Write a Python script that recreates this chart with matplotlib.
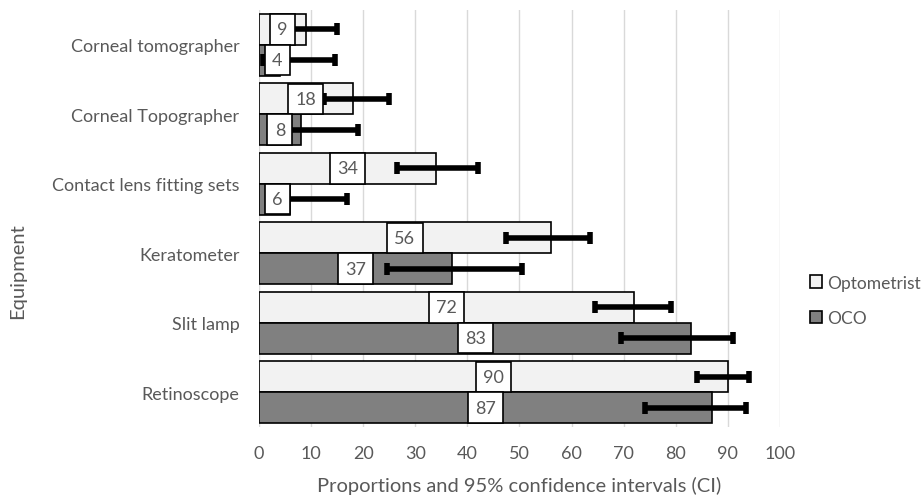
import matplotlib
matplotlib.use("Agg")
import matplotlib.pyplot as plt
from matplotlib.patches import Patch
import numpy as np

plt.rcParams['font.family'] = ['Lato', 'DejaVu Sans']

# Data (bottom to top)
equipment = ["Retinoscope", "Slit lamp", "Keratometer",
             "Contact lens fitting sets", "Corneal Topographer", "Corneal tomographer"]
optometrist = [90, 72, 56, 34, 18, 9]
oco = [87, 83, 37, 6, 8, 4]
opt_ci_low = [84, 64.5, 47.5, 26.5, 12.5, 5]
opt_ci_high = [94, 79, 63.5, 42, 25, 15]
oco_ci_low = [74, 69.5, 24.5, 2, 3, 0.8]
oco_ci_high = [93.5, 91, 50.5, 16.8, 19, 14.5]

text_col = "#595959"
h = 0.445
y = np.arange(len(equipment))

fig = plt.figure(figsize=(9.21, 5.02), dpi=100)
ax = fig.add_axes([0.2812, 0.1474, 0.5657, 0.8307])

ax.barh(y + h / 2, optometrist, height=h, color="#f2f2f2", edgecolor="black", linewidth=1.2, zorder=2)
ax.barh(y - h / 2, oco, height=h, color="#808080", edgecolor="black", linewidth=1.2, zorder=2)

# confidence intervals
for ys, lo, hi in [(y + h / 2, opt_ci_low, opt_ci_high), (y - h / 2, oco_ci_low, oco_ci_high)]:
    lo = np.array(lo)
    hi = np.array(hi)
    ax.errorbar((lo + hi) / 2, ys, xerr=(hi - lo) / 2, fmt="none", ecolor="black",
                elinewidth=4, capsize=4.5, capthick=4, zorder=3)

# value labels
for ys, vals in [(y + h / 2, optometrist), (y - h / 2, oco)]:
    for yy, v in zip(ys, vals):
        ax.text(max(v / 2, 3.5), yy, str(v), ha="center", va="center", fontsize=13, color=text_col,
                zorder=4, bbox=dict(boxstyle="square,pad=0.4", fc="white", ec="black", lw=1.2))

ax.set_xlim(0, 100)
ax.set_ylim(-0.5, len(equipment) - 0.5)
ax.set_xticks(range(0, 101, 10))
ax.set_yticks(y)
ax.set_yticklabels(equipment)
ax.xaxis.grid(True, color="#d9d9d9", linewidth=1)
ax.set_axisbelow(True)
for s in ax.spines.values():
    s.set_visible(False)
ax.tick_params(axis="both", length=0, labelsize=13, colors=text_col)
ax.tick_params(axis="x", pad=13)
ax.tick_params(axis="y", pad=14)

ax.set_xlabel("Proportions and 95% confidence intervals (CI)", fontsize=14.5, color=text_col, labelpad=11)
fig.text(0.019, 0.46, "Equipment", rotation=90, ha="center", va="center", fontsize=14.5, color=text_col)

handles = [Patch(facecolor="#f2f2f2", edgecolor="black", linewidth=1.2, label="Optometrist"),
           Patch(facecolor="#808080", edgecolor="black", linewidth=1.2, label="OCO")]
fig.legend(handles=handles, loc="center left", bbox_to_anchor=(0.862, 0.40), frameon=False,
           fontsize=12.5, handlelength=0.7, handleheight=0.7, handletextpad=0.3, labelspacing=1.1,
           labelcolor=text_col)

fig.savefig("out.png", dpi=100)
